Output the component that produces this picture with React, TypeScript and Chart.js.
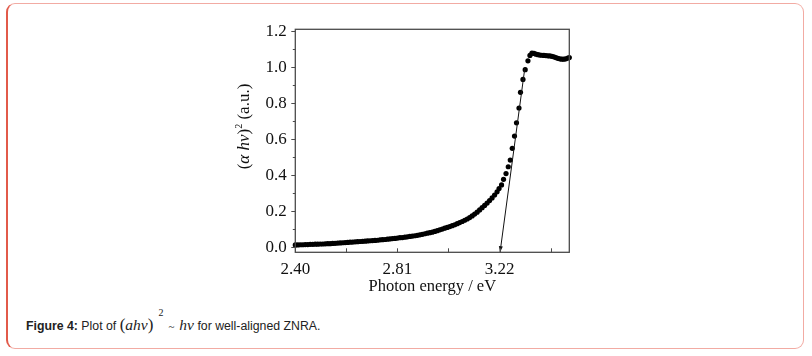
import React, { useEffect, useRef } from "react";
import { Chart, registerables } from "chart.js";

Chart.register(...registerables);

// Photon energy (eV)
const energyEV: number[] = [
  2.40, 2.41, 2.42, 2.43, 2.44, 2.45, 2.46, 2.47, 2.48, 2.49,
  2.50, 2.51, 2.52, 2.53, 2.54, 2.55, 2.56, 2.57, 2.58, 2.59,
  2.60, 2.61, 2.62, 2.63, 2.64, 2.65, 2.66, 2.67, 2.68, 2.69,
  2.70, 2.71, 2.72, 2.73, 2.74, 2.75, 2.76, 2.77, 2.78, 2.79,
  2.80, 2.81, 2.82, 2.83, 2.84, 2.85, 2.86, 2.87, 2.88, 2.89,
  2.90, 2.91, 2.92, 2.93, 2.94, 2.95, 2.96, 2.97, 2.98, 2.99,
  3.00, 3.01, 3.02, 3.03, 3.04, 3.05, 3.06, 3.07, 3.08, 3.09,
  3.10, 3.11, 3.12, 3.13, 3.14, 3.15, 3.16, 3.17, 3.18, 3.19,
  3.20, 3.21, 3.218,
  3.228, 3.236, 3.246, 3.255, 3.263, 3.271, 3.280, 3.288, 3.298, 3.304,
  3.314, 3.323, 3.334, 3.342, 3.350,
  3.358, 3.366, 3.374, 3.382, 3.390, 3.398, 3.406, 3.414, 3.422, 3.430,
  3.438, 3.446, 3.454, 3.462, 3.470, 3.478, 3.486, 3.494, 3.500,
];

// (alpha h nu)^2 (a.u.)
const absorbance: number[] = [
  0.013, 0.013, 0.014, 0.014, 0.015, 0.015, 0.016, 0.016, 0.017, 0.017,
  0.018, 0.018, 0.019, 0.020, 0.020, 0.021, 0.022, 0.023, 0.024, 0.025,
  0.026, 0.027, 0.028, 0.029, 0.030, 0.031, 0.032, 0.033, 0.034, 0.035,
  0.036, 0.037, 0.038, 0.039, 0.041, 0.042, 0.043, 0.045, 0.046, 0.048,
  0.049, 0.051, 0.053, 0.054, 0.056, 0.058, 0.060, 0.062, 0.064, 0.066,
  0.069, 0.072, 0.075, 0.078, 0.081, 0.084, 0.088, 0.092, 0.097, 0.101,
  0.106, 0.110, 0.115, 0.120, 0.125, 0.131, 0.137, 0.143, 0.150, 0.157,
  0.165, 0.174, 0.184, 0.195, 0.207, 0.220, 0.232, 0.245, 0.259, 0.274,
  0.290, 0.308, 0.326,
  0.346, 0.377, 0.409, 0.447, 0.484, 0.549, 0.617, 0.691, 0.773, 0.860,
  0.932, 0.986, 1.035, 1.065, 1.078,
  1.076, 1.072, 1.069, 1.067, 1.066, 1.065, 1.064, 1.063, 1.062, 1.060,
  1.057, 1.053, 1.049, 1.046, 1.044, 1.044, 1.046, 1.050, 1.053,
];

// Linear extrapolation line (band gap), drawn from top to the arrow tip
const fitLineX: number[] = [3.322, 3.222];
const fitLineY: number[] = [1.0, -0.028];

const xMajorTicks: number[] = [2.40, 2.81, 3.22];
const xMinorTicks: number[] = [2.605, 3.015, 3.425];
const yMajorTicks: number[] = [0.0, 0.2, 0.4, 0.6, 0.8, 1.0, 1.2];
const yMinorTicks: number[] = [0.1, 0.3, 0.5, 0.7, 0.9, 1.1];

const X_MIN = 2.40;
const X_MAX = 3.50;
const Y_MIN = -0.028;
const Y_MAX = 1.21;

const SERIF = '"Liberation Serif", "Times New Roman", serif';
const FRAME = "#4a4a4a";

const zeroPad = (s: any) => {
  s.paddingTop = 0;
  s.paddingBottom = 0;
  s.paddingLeft = 0;
  s.paddingRight = 0;
};

const framePlugin = {
  id: "framePlugin",
  afterDatasetsDraw(chart: any) {
    const { ctx, chartArea, scales } = chart;
    const xs = scales.x;
    const ys = scales.y;
    ctx.save();
    // arrow head at the end of the fit line
    const x0 = xs.getPixelForValue(fitLineX[0]);
    const y0 = ys.getPixelForValue(fitLineY[0]);
    const x1 = xs.getPixelForValue(fitLineX[1]);
    const y1 = ys.getPixelForValue(fitLineY[1]);
    const ang = Math.atan2(y1 - y0, x1 - x0);
    const len = 6;
    const half = 2;
    ctx.fillStyle = "#111";
    ctx.beginPath();
    ctx.moveTo(x1, y1);
    ctx.lineTo(
      x1 - len * Math.cos(ang) + half * Math.sin(ang),
      y1 - len * Math.sin(ang) - half * Math.cos(ang)
    );
    ctx.lineTo(
      x1 - len * Math.cos(ang) - half * Math.sin(ang),
      y1 - len * Math.sin(ang) + half * Math.cos(ang)
    );
    ctx.closePath();
    ctx.fill();

    // frame
    ctx.strokeStyle = FRAME;
    ctx.lineWidth = 1.3;
    ctx.strokeRect(
      chartArea.left,
      chartArea.top,
      chartArea.right - chartArea.left,
      chartArea.bottom - chartArea.top
    );
    // x ticks (inward)
    ctx.lineWidth = 1;
    ctx.beginPath();
    xMajorTicks.concat(xMinorTicks).forEach((v) => {
      const px = Math.round(xs.getPixelForValue(v)) + 0.5;
      ctx.moveTo(px, chartArea.bottom);
      ctx.lineTo(px, chartArea.bottom - 4);
    });
    // y ticks (outward)
    yMajorTicks.forEach((v) => {
      const py = Math.round(ys.getPixelForValue(v)) + 0.5;
      ctx.moveTo(chartArea.left, py);
      ctx.lineTo(chartArea.left - 4, py);
    });
    yMinorTicks.forEach((v) => {
      const py = Math.round(ys.getPixelForValue(v)) + 0.5;
      ctx.moveTo(chartArea.left, py);
      ctx.lineTo(chartArea.left - 2.5, py);
    });
    ctx.stroke();

    // y axis title: (α hν)² (a.u.)
    ctx.translate(13, 111.5);
    ctx.rotate(-Math.PI / 2);
    ctx.fillStyle = "#111";
    ctx.textBaseline = "alphabetic";
    const segs: { t: string; f: string; dy: number }[] = [
      { t: "(", f: `17px ${SERIF}`, dy: 0 },
      { t: "\u03b1 h\u03bd", f: `italic 17px ${SERIF}`, dy: 0 },
      { t: ")", f: `17px ${SERIF}`, dy: 0 },
      { t: "2", f: `10px ${SERIF}`, dy: -7 },
      { t: " (a.u.)", f: `17px ${SERIF}`, dy: 0 },
    ];
    let total = 0;
    segs.forEach((s) => {
      ctx.font = s.f;
      total += ctx.measureText(s.t).width;
    });
    let cx = -total / 2;
    segs.forEach((s) => {
      ctx.font = s.f;
      ctx.fillText(s.t, cx, 6 + s.dy);
      cx += ctx.measureText(s.t).width;
    });
    ctx.restore();
  },
};

function ChartCanvas() {
  const ref = useRef<HTMLCanvasElement | null>(null);
  useEffect(() => {
    if (!ref.current) return;
    const points = energyEV.map((x, i) => ({ x, y: absorbance[i] }));
    const fit = fitLineX.map((x, i) => ({ x, y: fitLineY[i] }));
    const chart = new Chart(ref.current, {
      type: "scatter",
      data: {
        datasets: [
          {
            data: fit,
            showLine: true,
            borderColor: "#111",
            borderWidth: 1,
            pointRadius: 0,
            clip: false,
          } as any,
          {
            data: points,
            showLine: false,
            pointRadius: 2.6,
            pointBackgroundColor: "#000",
            pointBorderWidth: 0,
            borderColor: "#000",
            clip: false,
          } as any,
        ],
      },
      options: {
        responsive: false,
        animation: false,
        devicePixelRatio: 1,
        layout: { padding: { top: 14.3, right: 20.7, left: 0, bottom: 0 } },
        plugins: {
          legend: { display: false },
          tooltip: { enabled: false },
        },
        scales: {
          x: {
            type: "linear",
            min: X_MIN,
            max: X_MAX,
            afterBuildTicks: (s: any) => {
              s.ticks = xMajorTicks.map((v) => ({ value: v }));
            },
            afterFit: (s: any) => {
              s.height = 52.7;
              zeroPad(s);
            },
            grid: { display: false, drawTicks: false },
            border: { display: false },
            ticks: {
              padding: 7,
              color: "#111",
              font: { family: SERIF, size: 17 },
              maxRotation: 0,
              callback: (v: any) => Number(v).toFixed(2),
            },
            title: {
              display: true,
              text: "Photon energy / eV",
              color: "#111",
              font: { family: SERIF, size: 16.5 },
              padding: { top: 0, bottom: 8 },
            },
          },
          y: {
            type: "linear",
            min: Y_MIN,
            max: Y_MAX,
            afterBuildTicks: (s: any) => {
              s.ticks = yMajorTicks.map((v) => ({ value: v }));
            },
            afterFit: (s: any) => {
              s.width = 65.3;
              zeroPad(s);
            },
            grid: { display: false, drawTicks: false },
            border: { display: false },
            ticks: {
              padding: 8.6,
              color: "#111",
              font: { family: SERIF, size: 17 },
              callback: (v: any) => Number(v).toFixed(1),
            },
          },
        },
      } as any,
      plugins: [framePlugin],
    });
    return () => chart.destroy();
  }, []);
  return (
    <canvas
      ref={ref}
      width={360}
      height={290}
      style={{ position: "absolute", left: 230, top: 15, width: 360, height: 290 }}
    />
  );
}

export default function App() {
  return (
    <div
      style={{
        position: "absolute",
        left: 0,
        top: 0,
        width: 812,
        height: 356,
        background: "#fff",
        overflow: "hidden",
      }}
    >
      <div
        style={{
          position: "absolute",
          left: 6,
          top: 3,
          width: 798,
          height: 346,
          borderTop: "1px solid #f2aba3",
          borderRight: "1.5px solid #f2aba3",
          borderBottom: "1.5px solid #f2aba3",
          borderLeft: "2px solid #e25a4a",
          borderRadius: 9,
          boxSizing: "border-box",
        }}
      />
      <ChartCanvas />
      <div
        style={{
          position: "absolute",
          left: 26,
          top: 315,
          display: "flex",
          alignItems: "baseline",
          whiteSpace: "pre",
          fontFamily: '"Liberation Sans", Arial, sans-serif',
          fontSize: 12.3,
          color: "#222",
        }}
      >
        <span style={{ fontWeight: "bold" }}>Figure 4:</span>
        <span> Plot of </span>
        <span style={{ fontFamily: SERIF, fontSize: 17 }}>(</span>
        <span style={{ fontFamily: SERIF, fontSize: 15.5, fontStyle: "italic" }}>ahv</span>
        <span style={{ fontFamily: SERIF, fontSize: 17 }}>)</span>
        <span
          style={{
            fontFamily: SERIF,
            fontSize: 10,
            position: "relative",
            top: -14,
            marginLeft: 5,
          }}
        >
          2
        </span>
        <span style={{ fontFamily: SERIF, fontSize: 11, marginLeft: 5 }}>~</span>
        <span
          style={{ fontFamily: SERIF, fontSize: 15.5, fontStyle: "italic", marginLeft: 5 }}
        >
          hv
        </span>
        <span> for well-aligned ZNRA.</span>
      </div>
    </div>
  );
}
